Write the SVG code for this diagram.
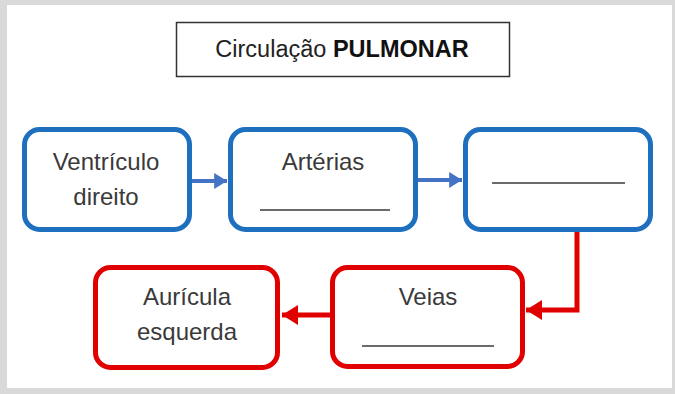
<svg xmlns="http://www.w3.org/2000/svg" width="675" height="394" viewBox="0 0 675 394">
  <defs>
    <style>
      .txt { font-family: "Liberation Sans", Arial, sans-serif; font-size: 24px; fill: #3a3a3a; text-anchor: middle; }
      .blue { fill: #ffffff; stroke: #1f6fbf; stroke-width: 5; }
      .red { fill: #ffffff; stroke: #e00000; stroke-width: 5; }
      .blank { stroke: #3a3a3a; stroke-width: 1.6; }
      .barrow { stroke: #4472c4; stroke-width: 4; fill: none; }
      .rarrow { stroke: #e00000; stroke-width: 5; fill: none; }
    </style>
    <marker id="ab" markerWidth="4" markerHeight="4" refX="3.2" refY="2" orient="auto" markerUnits="strokeWidth">
      <path d="M0,0 L3.2,2 L0,4 Z" fill="#4472c4"/>
    </marker>
    <marker id="ar" markerWidth="4" markerHeight="4" refX="3.2" refY="2" orient="auto" markerUnits="strokeWidth">
      <path d="M0,0 L3.2,2 L0,4 Z" fill="#e00000"/>
    </marker>
  </defs>
  <rect x="0" y="0" width="675" height="394" fill="#d9d9d9"/>
  <rect x="7" y="5" width="665" height="383" fill="#ffffff"/>

  <g id="title">
    <rect x="176.5" y="22.5" width="333" height="54" fill="#ffffff" stroke="#333333" stroke-width="1.5"/>
    <text x="342" y="57" class="txt" style="font-size:23.5px;fill:#222">Circulação <tspan font-weight="bold" fill="#111">PULMONAR</tspan></text>
  </g>

  <g id="connectors">
    <line x1="192" y1="181" x2="227" y2="181" class="barrow" marker-end="url(#ab)"/>
    <line x1="418" y1="180" x2="462" y2="180" class="barrow" marker-end="url(#ab)"/>
    <path d="M577 232 V310 H526" class="rarrow" marker-end="url(#ar)"/>
    <line x1="331" y1="315" x2="282" y2="315" class="rarrow" marker-end="url(#ar)"/>
  </g>

  <g id="ventriculo-direito">
    <rect x="24.5" y="129.5" width="165" height="100" rx="15" class="blue"/>
    <text x="106" y="170" class="txt">Ventrículo</text>
    <text x="106" y="205" class="txt">direito</text>
  </g>

  <g id="arterias">
    <rect x="230.5" y="129.5" width="185" height="100" rx="15" class="blue"/>
    <text x="323" y="170" class="txt">Artérias</text>
    <line x1="260" y1="210" x2="390" y2="210" class="blank"/>
  </g>

  <g id="blank-node">
    <rect x="465.5" y="129.5" width="185" height="100" rx="15" class="blue"/>
    <line x1="492" y1="183" x2="625" y2="183" class="blank"/>
  </g>

  <g id="veias">
    <rect x="332.5" y="267.5" width="190" height="99" rx="15" class="red"/>
    <text x="428" y="305" class="txt">Veias</text>
    <line x1="362" y1="346" x2="494" y2="346" class="blank"/>
  </g>

  <g id="auricula-esquerda">
    <rect x="95.5" y="267.5" width="182" height="100" rx="15" class="red"/>
    <text x="187" y="305" class="txt">Aurícula</text>
    <text x="187" y="340" class="txt">esquerda</text>
  </g>
</svg>
